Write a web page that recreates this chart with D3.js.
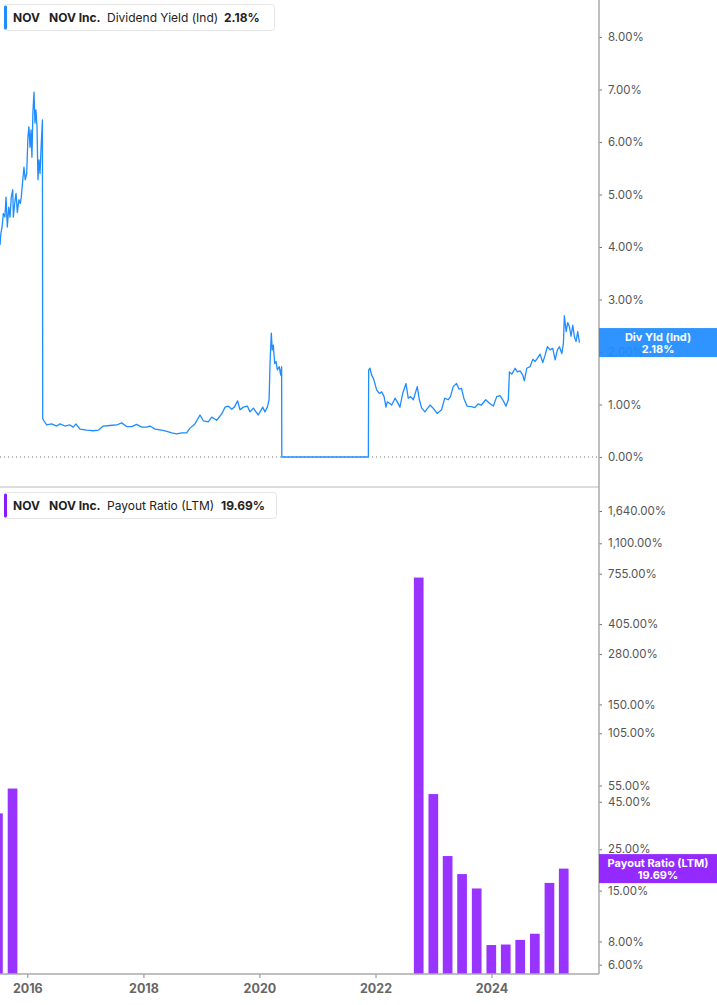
<!DOCTYPE html>
<html>
<head>
<meta charset="utf-8">
<style>
    body { margin: 0; background: #fff; }
    svg { display: block; font-family: Inter, "Noto Sans", sans-serif; }
</style>
</head>
<body>
<div id="chart"></div>
<script src="https://cdn.jsdelivr.net/npm/d3@7/dist/d3.min.js"></script>
<script>
// dividend yield (%)
var yieldDates = [
    "2015-07-13","2015-07-19","2015-07-26","2015-08-03","2015-08-13","2015-08-20","2015-08-28","2015-09-06",
    "2015-09-14","2015-09-22","2015-10-01","2015-10-05","2015-10-16","2015-10-22","2015-10-30","2015-11-09",
    "2015-11-18","2015-11-24","2015-12-05","2015-12-11","2015-12-19","2015-12-28","2016-01-05","2016-01-11",
    "2016-01-18","2016-01-24","2016-01-30","2016-02-05","2016-02-12","2016-02-18","2016-02-24","2016-03-02",
    "2016-03-08","2016-03-14","2016-03-21","2016-03-27","2016-04-05","2016-04-07","2016-04-12","2016-05-02",
    "2016-06-02","2016-07-04","2016-07-25","2016-08-25","2016-09-25","2016-10-16","2016-11-02","2016-11-27",
    "2017-01-09","2017-02-19","2017-03-23","2017-04-23","2017-06-04","2017-07-17","2017-08-17","2017-09-17",
    "2017-10-19","2017-11-19","2017-12-21","2018-01-21","2018-02-11","2018-03-15","2018-04-26","2018-05-28",
    "2018-06-28","2018-07-29","2018-08-30","2018-09-30","2018-10-21","2018-11-21","2018-12-23","2019-01-13",
    "2019-02-13","2019-03-07","2019-04-07","2019-05-09","2019-05-30","2019-06-19","2019-07-11","2019-07-27",
    "2019-08-17","2019-09-01","2019-09-22","2019-10-17","2019-11-03","2019-11-24","2019-12-25","2020-01-22",
    "2020-02-05","2020-02-20","2020-03-02","2020-03-08","2020-03-16","2020-03-22","2020-03-29","2020-04-06",
    "2020-04-15","2020-04-23","2020-05-05","2020-05-14","2020-05-20","2020-05-21","2021-11-17","2021-11-19",
    "2021-11-27","2021-12-08","2021-12-22","2022-01-08","2022-01-25","2022-02-09","2022-02-24","2022-03-08",
    "2022-03-16","2022-04-02","2022-04-13","2022-05-04","2022-05-18","2022-06-04","2022-06-21","2022-07-12",
    "2022-07-26","2022-08-10","2022-08-27","2022-09-21","2022-10-04","2022-10-19","2022-11-08","2022-12-10",
    "2022-12-30","2023-01-24","2023-02-21","2023-03-13","2023-04-03","2023-04-18","2023-05-05","2023-05-26",
    "2023-06-11","2023-06-26","2023-07-11","2023-07-31","2023-08-28","2023-09-18","2023-10-09","2023-10-30",
    "2023-11-26","2023-12-21","2024-01-13","2024-02-03","2024-02-24","2024-03-12","2024-04-02","2024-04-16",
    "2024-04-23","2024-05-08","2024-05-29","2024-06-12","2024-06-29","2024-07-16","2024-07-26","2024-08-10",
    "2024-08-31","2024-09-17","2024-10-02","2024-10-16","2024-11-02","2024-11-19","2024-12-04","2024-12-18",
    "2025-01-04","2025-01-21","2025-02-05","2025-02-19","2025-03-04","2025-03-19","2025-03-29","2025-04-04",
    "2025-04-15","2025-04-25","2025-05-06","2025-05-16","2025-05-27","2025-06-06","2025-06-17","2025-06-27",
    "2025-07-08"
];
var yieldValues = [
    4.04, 4.27, 4.38, 4.64, 4.57, 4.95, 4.38, 4.76,
    4.57, 4.95, 5.09, 4.57, 4.90, 5.02, 4.66, 4.90,
    4.83, 4.95, 5.33, 5.52, 5.28, 5.40, 6.10, 6.29,
    5.90, 6.23, 5.71, 6.55, 6.95, 6.36, 6.61, 6.29,
    5.28, 5.66, 5.40, 5.85, 6.42, 0.74, 0.70, 0.61,
    0.63, 0.59, 0.63, 0.59, 0.61, 0.57, 0.63, 0.53,
    0.51, 0.50, 0.51, 0.59, 0.60, 0.61, 0.65, 0.58,
    0.58, 0.62, 0.57, 0.57, 0.59, 0.53, 0.51, 0.49,
    0.46, 0.44, 0.46, 0.46, 0.55, 0.63, 0.80, 0.69,
    0.67, 0.76, 0.70, 0.82, 0.95, 0.97, 0.91, 0.95,
    1.07, 0.90, 0.95, 0.97, 0.86, 0.93, 0.80, 0.95,
    0.86, 0.95, 1.09, 1.78, 2.36, 2.04, 2.13, 1.78,
    1.82, 1.66, 1.72, 1.56, 1.72, 0.00, 0.00, 1.66,
    1.69, 1.56, 1.47, 1.28, 1.21, 1.24, 1.15, 0.95,
    1.05, 1.02, 0.99, 1.12, 1.05, 0.95, 1.21, 1.40,
    1.12, 1.15, 1.09, 1.34, 1.09, 0.93, 0.86, 0.99,
    0.93, 0.83, 0.90, 1.12, 1.09, 1.15, 1.34, 1.40,
    1.29, 1.31, 1.12, 0.97, 0.96, 0.94, 1.01, 0.99,
    1.09, 1.02, 0.97, 1.15, 1.17, 1.09, 0.97, 1.09,
    1.62, 1.58, 1.69, 1.62, 1.64, 1.56, 1.45, 1.69,
    1.72, 1.86, 1.82, 1.88, 1.96, 1.80, 1.94, 2.10,
    2.04, 2.07, 1.85, 2.04, 2.10, 1.97, 2.17, 2.69,
    2.39, 2.56, 2.48, 2.30, 2.51, 2.29, 2.20, 2.39,
    2.18
];

// payout ratio (LTM, %), quarterly
var payoutDates = ["2015-06-30","2015-09-30","2022-09-30","2022-12-31","2023-03-31","2023-06-30",
    "2023-09-30","2023-12-31","2024-03-31","2024-06-30","2024-09-30","2024-12-31","2025-03-31"];
var payoutValues = [39, 53, 720, 49.5, 23, 18.4, 15.4, 7.65, 7.7, 8.15, 8.8, 16.5, 19.69];

var yieldTicks = [0, 1, 2, 3, 4, 5, 6, 7, 8];
var payoutTicks = [6, 8, 15, 25, 45, 55, 105, 150, 280, 405, 755, 1100, 1640];
var yearTicks = ["2016", "2018", "2020", "2022", "2024"];

var W = 717, H = 1005, axisX = 599;
var parse = d3.timeParse("%Y-%m-%d");

var svg = d3.select("#chart").append("svg")
    .attr("width", W)
    .attr("height", H);

var x = d3.scaleTime()
    .domain([parse("2015-07-13"), parse("2025-11-08")])
    .range([0, axisX]);

var yTop = d3.scaleLinear().domain([0, 8]).range([457, 37]);
var yBot = d3.scaleLog().domain([6, 1640]).range([964.7, 511]);

svg.append("defs").append("clipPath").attr("id", "plotclip")
    .append("rect").attr("x", 0).attr("y", 0).attr("width", axisX).attr("height", H);

// ---- top panel ----
svg.append("line")
    .attr("x1", 0).attr("x2", axisX)
    .attr("y1", yTop(0)).attr("y2", yTop(0))
    .attr("stroke", "#777").attr("stroke-width", 1)
    .attr("stroke-dasharray", "1,3");

var line = d3.line()
    .x(function (d, i) { return x(parse(yieldDates[i])); })
    .y(function (d) { return yTop(d); });

svg.append("path")
    .datum(yieldValues)
    .attr("clip-path", "url(#plotclip)")
    .attr("d", line)
    .attr("fill", "none")
    .attr("stroke", "#1f8cff")
    .attr("stroke-width", 1.3)
    .attr("stroke-linejoin", "round");

var topAxis = svg.append("g")
    .attr("transform", "translate(" + axisX + ",0)")
    .call(d3.axisRight(yTop).tickValues(yieldTicks)
        .tickFormat(function (d) { return d3.format(".2f")(d) + "%"; })
        .tickSize(3).tickPadding(6));

// ---- bottom panel ----
svg.append("line")
    .attr("x1", 0).attr("x2", axisX)
    .attr("y1", 487).attr("y2", 487)
    .attr("stroke", "#dcdcdc").attr("stroke-width", 2);

var barW = function (d) {
    var t = parse(d);
    return x(d3.timeDay.offset(t, 30)) - x(d3.timeDay.offset(t, -31));
};

svg.append("g")
    .attr("clip-path", "url(#plotclip)")
    .selectAll("rect")
    .data(payoutValues)
    .enter()
    .append("rect")
    .attr("x", function (d, i) { return x(parse(payoutDates[i])) - barW(payoutDates[i]) / 2; })
    .attr("width", function (d, i) { return barW(payoutDates[i]); })
    .attr("y", function (d) { return yBot(d); })
    .attr("height", function (d) { return 974 - yBot(d); })
    .attr("fill", "#9933ff");

var botAxis = svg.append("g")
    .attr("transform", "translate(" + axisX + ",0)")
    .call(d3.axisRight(yBot).tickValues(payoutTicks)
        .tickFormat(function (d) { return d3.format(",.2f")(d) + "%"; })
        .tickSize(3).tickPadding(6));

[topAxis, botAxis].forEach(function (g) {
    g.select(".domain").remove();
    g.selectAll(".tick line").attr("stroke", "#777");
    g.selectAll(".tick text")
        .attr("fill", "#555")
        .style("font-size", "11.5px")
        .style("font-family", "Inter, 'Noto Sans', sans-serif");
});

// x axis
var xAxis = svg.append("g")
    .attr("transform", "translate(0,974)")
    .call(d3.axisBottom(x)
        .tickValues(yearTicks.map(function (y) { return parse(y + "-01-01"); }))
        .tickFormat(d3.timeFormat("%Y"))
        .tickSize(4).tickPadding(6));
xAxis.select(".domain").remove();
xAxis.selectAll(".tick line").attr("stroke", "#888");
xAxis.selectAll(".tick text")
    .attr("fill", "#666")
    .style("font-size", "12.5px")
    .style("font-weight", "bold")
    .style("font-family", "Inter, 'Noto Sans', sans-serif");

svg.append("line")
    .attr("x1", 0).attr("x2", axisX)
    .attr("y1", 974).attr("y2", 974)
    .attr("stroke", "#aaa").attr("stroke-width", 1.5);

// right axis line
svg.append("line")
    .attr("x1", axisX).attr("x2", axisX)
    .attr("y1", 0).attr("y2", 974)
    .attr("stroke", "#aaa").attr("stroke-width", 1.5);

// value tags on the right
function tag(yc, color, label, value) {
    svg.append("rect")
        .attr("x", axisX).attr("y", yc - 14.5)
        .attr("width", W - axisX).attr("height", 29)
        .attr("fill", color).attr("fill-opacity", 0.93);
    svg.append("text")
        .attr("x", 658).attr("y", yc - 2)
        .attr("text-anchor", "middle")
        .attr("fill", "#fff")
        .style("font-size", "11px").style("font-weight", "bold")
        .text(label);
    svg.append("text")
        .attr("x", 658).attr("y", yc + 10)
        .attr("text-anchor", "middle")
        .attr("fill", "#fff")
        .style("font-size", "11px").style("font-weight", "bold")
        .text(value);
}
tag(yTop(2.18), "#1f8cff", "Div Yld (Ind)", "2.18%");
tag(yBot(19.69), "#8c1aff", "Payout Ratio (LTM)", "19.69%");

// legends
function legend(y0, color, w, parts) {
    svg.append("rect")
        .attr("x", 4.5).attr("y", y0 + 0.5)
        .attr("width", w).attr("height", 26).attr("rx", 3)
        .attr("fill", "#fff").attr("stroke", "#e6e6e6");
    svg.append("rect")
        .attr("x", 4).attr("y", y0 + 1.5)
        .attr("width", 3).attr("height", 24).attr("rx", 1.5)
        .attr("fill", color);
    parts.forEach(function (p) {
        svg.append("text")
            .attr("x", p[0]).attr("y", y0 + 18)
            .attr("fill", "#222")
            .style("font-size", "12px")
            .style("font-weight", p[2] ? "bold" : "normal")
            .text(p[1]);
    });
}
legend(4, "#1f8cff", 270, [[13, "NOV", 1], [49, "NOV Inc.", 1], [107, "Dividend Yield (Ind)", 0], [224, "2.18%", 1]]);
legend(492, "#8c1aff", 272, [[13, "NOV", 1], [49, "NOV Inc.", 1], [107, "Payout Ratio (LTM)", 0], [221, "19.69%", 1]]);
</script>
</body>
</html>
